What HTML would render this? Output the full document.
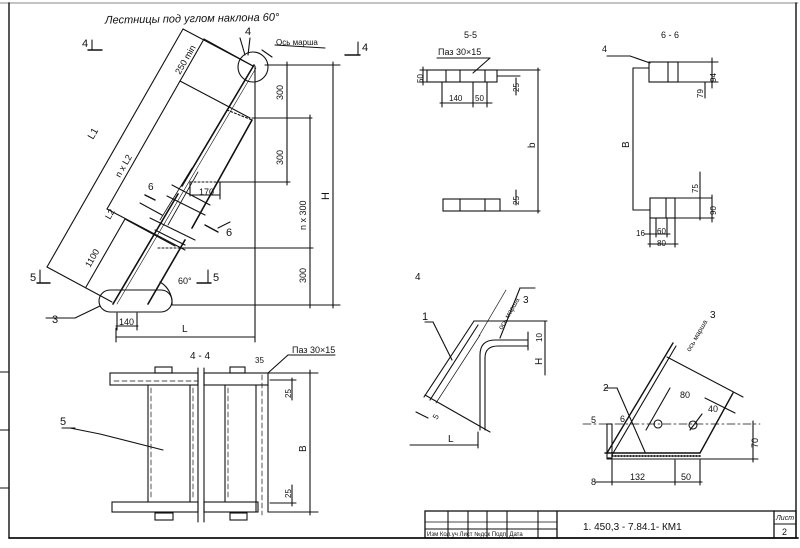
<!DOCTYPE html>
<html><head><meta charset="utf-8"><style>
html,body{margin:0;padding:0;background:#fff;}
svg{display:block;}
text{font-family:"Liberation Sans",sans-serif;fill:#111;}
</style></head><body>
<svg width="800" height="548" viewBox="0 0 800 548" xmlns="http://www.w3.org/2000/svg">
<g stroke="#111" stroke-width="1.1" fill="none" stroke-linecap="round">
<line x1="0" y1="3" x2="798" y2="3" stroke-width="0.6"/>
<line x1="9" y1="3" x2="9" y2="538" stroke-width="1.4"/>
<line x1="796" y1="3" x2="796" y2="538" stroke-width="1.4"/>
<line x1="9" y1="538" x2="798" y2="538" stroke-width="1.8"/>
<line x1="0" y1="372" x2="8" y2="372"/><line x1="0" y1="430" x2="9" y2="430"/><line x1="0" y1="488" x2="9" y2="488"/>
<rect x="425" y="511" width="371" height="27" stroke-width="1.3"/>
<line x1="425" y1="522" x2="557" y2="522" stroke-width="0.7"/>
<line x1="425" y1="529" x2="557" y2="529" stroke-width="1"/>
<line x1="448" y1="511" x2="448" y2="538"/><line x1="468" y1="511" x2="468" y2="538"/><line x1="487" y1="511" x2="487" y2="538"/><line x1="507" y1="511" x2="507" y2="538"/><line x1="538" y1="511" x2="538" y2="538"/><line x1="557" y1="511" x2="557" y2="538" stroke-width="1.3"/>
<line x1="774" y1="511" x2="774" y2="538" stroke-width="1.3"/><line x1="774" y1="524" x2="796" y2="524"/>

<line x1="113" y1="304" x2="178" y2="194" stroke-width="1.6"/>
<line x1="182" y1="186" x2="254" y2="65" stroke-width="1.6"/>
<line x1="117" y1="304" x2="256" y2="68" stroke-width="0.6"/>
<line x1="148" y1="304" x2="185" y2="240" stroke-width="1.6"/>
<line x1="192" y1="228" x2="252" y2="120" stroke-width="1.6"/>
<line x1="160" y1="220" x2="192" y2="168" stroke-width="0.8"/>
<line x1="168" y1="225" x2="198" y2="172" stroke-width="0.8"/>
<line x1="172" y1="185" x2="210" y2="205"/><line x1="167" y1="196" x2="205" y2="215"/>
<line x1="150" y1="218" x2="195" y2="240"/><line x1="155" y1="230" x2="185" y2="245"/>
<line x1="227" y1="110" x2="252" y2="120" stroke-dasharray="2 2"/>
<line x1="190" y1="182" x2="220" y2="182" stroke-dasharray="2 2"/>
<line x1="158" y1="248" x2="180" y2="248" stroke-dasharray="2 2"/>
<line x1="47" y1="267" x2="183" y2="29"/>
<line x1="107" y1="209" x2="204" y2="39"/>
<line x1="86" y1="287" x2="125" y2="219"/>
<line x1="47" y1="267" x2="112" y2="302"/>
<line x1="183" y1="29" x2="253" y2="66"/>
<line x1="204" y1="39" x2="253" y2="66"/>
<line x1="180" y1="81" x2="250" y2="118"/>
<line x1="107" y1="209" x2="185" y2="250"/>
<line x1="125" y1="219" x2="175" y2="246"/>
<line x1="140" y1="203" x2="162" y2="215"/>
<line x1="218" y1="228" x2="230" y2="222"/>
<line x1="255" y1="66" x2="255" y2="342"/>
<line x1="265" y1="65" x2="340" y2="65"/>
<line x1="252" y1="118" x2="312" y2="118"/>
<line x1="218" y1="182" x2="290" y2="182"/>
<line x1="180" y1="248" x2="313" y2="248"/>
<line x1="172" y1="305" x2="340" y2="305"/>
<line x1="287" y1="62" x2="287" y2="185"/>
<line x1="310" y1="115" x2="310" y2="308"/>
<line x1="333" y1="62" x2="333" y2="308"/>
<line x1="190" y1="182" x2="190" y2="196"/><line x1="190" y1="195" x2="220" y2="195"/><line x1="220" y1="182" x2="220" y2="199"/>
<line x1="116" y1="328" x2="116" y2="342"/><line x1="116" y1="337" x2="255" y2="337"/>
<line x1="117" y1="313" x2="117" y2="330"/><line x1="137" y1="313" x2="137" y2="330"/><line x1="116" y1="326" x2="138" y2="326"/>
<circle cx="253" cy="67" r="15"/>
<rect x="99" y="290" width="73" height="22" rx="11"/>
<path d="M172 305 A 24 24 0 0 0 160 282"/>
<line x1="88" y1="50" x2="102" y2="50" stroke-width="1.4"/><line x1="92" y1="40" x2="92" y2="50"/>
<line x1="345" y1="55" x2="360" y2="55" stroke-width="1.4"/><line x1="358" y1="42" x2="358" y2="55"/>
<line x1="37" y1="283" x2="50" y2="283" stroke-width="1.4"/><line x1="40" y1="270" x2="40" y2="283"/>
<line x1="197" y1="283" x2="211" y2="283" stroke-width="1.4"/><line x1="208" y1="270" x2="208" y2="283"/>
<line x1="205" y1="225" x2="218" y2="232" stroke-width="1.4"/>
<line x1="145" y1="195" x2="155" y2="200" stroke-width="1.4"/>
<line x1="240" y1="38" x2="245" y2="55"/><line x1="250" y1="38" x2="248" y2="55"/>
<line x1="262" y1="50" x2="272" y2="57"/><line x1="275" y1="45" x2="325" y2="48"/>
<line x1="46" y1="318" x2="75" y2="318"/><line x1="75" y1="318" x2="100" y2="306"/>

<rect x="110" y="373" width="88" height="12"/><rect x="204" y="373" width="64" height="12"/>
<line x1="114" y1="381" x2="198" y2="381" stroke-dasharray="5 3" stroke-width="0.7"/>
<line x1="148" y1="385" x2="148" y2="502"/><line x1="151" y1="388" x2="151" y2="500" stroke-dasharray="5 3" stroke-width="0.7"/>
<line x1="190" y1="385" x2="190" y2="502"/><line x1="193" y1="388" x2="193" y2="500" stroke-dasharray="5 3" stroke-width="0.7"/>
<line x1="225" y1="385" x2="225" y2="502"/><line x1="228" y1="388" x2="228" y2="500" stroke-dasharray="5 3" stroke-width="0.7"/>
<line x1="256" y1="385" x2="256" y2="512"/><line x1="268" y1="385" x2="268" y2="512"/>
<line x1="262" y1="375" x2="262" y2="515" stroke-dasharray="5 3" stroke-width="0.7"/>
<rect x="112" y="502" width="86" height="10"/><rect x="204" y="502" width="54" height="10"/>
<line x1="198" y1="368" x2="198" y2="522"/><line x1="204" y1="368" x2="204" y2="522"/>
<rect x="155" y="367" width="17" height="6"/><rect x="230" y="367" width="15" height="6"/>
<rect x="155" y="513" width="18" height="7"/><rect x="230" y="513" width="17" height="7"/>
<line x1="268" y1="373" x2="318" y2="373"/><line x1="268" y1="512" x2="318" y2="512"/>
<line x1="310" y1="370" x2="310" y2="515"/>
<line x1="270" y1="380" x2="296" y2="380"/><line x1="270" y1="503" x2="296" y2="503"/>
<line x1="292" y1="378" x2="292" y2="400"/><line x1="292" y1="485" x2="292" y2="506"/>
<line x1="268" y1="373" x2="288" y2="355"/><line x1="288" y1="355" x2="335" y2="355"/>
<line x1="62" y1="428" x2="75" y2="428"/><line x1="70" y1="428" x2="100" y2="434"/><line x1="100" y1="434" x2="163" y2="450"/>

<rect x="427" y="70" width="70" height="12"/>
<line x1="446" y1="70" x2="446" y2="82"/><line x1="460" y1="70" x2="460" y2="82"/><line x1="485" y1="70" x2="485" y2="82"/>
<line x1="497" y1="70" x2="540" y2="70"/><line x1="497" y1="76" x2="520" y2="76"/>
<line x1="420" y1="70" x2="427" y2="70"/><line x1="420" y1="82" x2="427" y2="82"/><line x1="423" y1="67" x2="423" y2="85"/>
<line x1="442" y1="82" x2="442" y2="107"/><line x1="473" y1="82" x2="473" y2="107"/><line x1="487" y1="82" x2="487" y2="107"/><line x1="440" y1="103" x2="492" y2="103"/>
<line x1="516" y1="78" x2="516" y2="95"/>
<line x1="538" y1="68" x2="538" y2="213"/>
<rect x="443" y="199" width="57" height="12"/><line x1="460" y1="199" x2="460" y2="211"/><line x1="485" y1="199" x2="485" y2="211"/>
<line x1="500" y1="211" x2="540" y2="211"/><line x1="516" y1="190" x2="516" y2="205"/>
<line x1="437" y1="58" x2="490" y2="58"/><line x1="490" y1="58" x2="473" y2="73"/>

<rect x="649" y="62" width="29" height="20"/><line x1="668" y1="62" x2="668" y2="82"/>
<line x1="678" y1="62" x2="718" y2="62"/><line x1="678" y1="82" x2="718" y2="82"/>
<line x1="712" y1="58" x2="712" y2="88"/><line x1="705" y1="82" x2="705" y2="98"/>
<line x1="607" y1="56" x2="630" y2="56"/><line x1="630" y1="56" x2="650" y2="63"/>
<line x1="633" y1="68" x2="633" y2="210"/><line x1="633" y1="68" x2="649" y2="68"/><line x1="633" y1="210" x2="650" y2="210"/>
<rect x="650" y="198" width="25" height="20"/><line x1="666" y1="198" x2="666" y2="218"/>
<line x1="675" y1="198" x2="712" y2="198"/><line x1="675" y1="218" x2="714" y2="218"/>
<line x1="700" y1="172" x2="700" y2="220"/><line x1="712" y1="195" x2="712" y2="222"/>
<line x1="650" y1="218" x2="650" y2="247"/><line x1="656" y1="218" x2="656" y2="237"/><line x1="667" y1="218" x2="667" y2="237"/><line x1="675" y1="218" x2="675" y2="247"/>
<line x1="645" y1="234" x2="670" y2="234"/><line x1="648" y1="244" x2="678" y2="244"/>

<line x1="424" y1="397" x2="474" y2="321"/><line x1="430" y1="400" x2="478" y2="325"/>
<line x1="436" y1="403" x2="480" y2="335" stroke-width="0.7"/>
<line x1="474" y1="321" x2="547" y2="321"/>
<path d="M480 430 L480 355 Q480 340 495 340 L528 340"/>
<path d="M485 430 L485 358 Q485 346 498 346 L528 346"/>
<line x1="545" y1="321" x2="545" y2="375"/><line x1="528" y1="332" x2="528" y2="350"/>
<line x1="410" y1="445" x2="478" y2="445"/><line x1="478" y1="432" x2="478" y2="448"/>
<line x1="425" y1="395" x2="490" y2="432"/><line x1="416" y1="412" x2="428" y2="418"/>
<line x1="425" y1="322" x2="433" y2="322"/><line x1="433" y1="322" x2="452" y2="360"/>
<line x1="520" y1="288" x2="535" y2="288"/><line x1="520" y1="288" x2="500" y2="338"/>
<line x1="479" y1="336" x2="506" y2="290" stroke-width="0.7"/>

<line x1="607" y1="453" x2="673" y2="343" stroke-width="1.4"/><line x1="612" y1="455" x2="676" y2="346"/>
<line x1="605" y1="453" x2="700" y2="453" stroke-width="1.4"/><line x1="607" y1="459" x2="700" y2="459"/>
<line x1="700" y1="453" x2="733" y2="393" stroke-width="1.4"/>
<line x1="667" y1="357" x2="743" y2="397"/><line x1="705" y1="398" x2="735" y2="413"/>
<line x1="670" y1="388" x2="646" y2="430"/><line x1="702" y1="414" x2="690" y2="430"/>
<line x1="583" y1="424" x2="760" y2="424" stroke-dasharray="8 3 2 3" stroke-width="0.7"/>
<circle cx="658" cy="424" r="4"/><circle cx="693" cy="425" r="4"/>
<rect x="607" y="424" width="5" height="34"/>
<line x1="700" y1="459" x2="758" y2="459"/><line x1="753" y1="421" x2="753" y2="462"/>
<line x1="612" y1="460" x2="612" y2="485"/><line x1="675" y1="460" x2="675" y2="485"/><line x1="700" y1="460" x2="700" y2="485"/><line x1="595" y1="482" x2="702" y2="482"/>
<line x1="605" y1="388" x2="617" y2="388"/><line x1="617" y1="388" x2="645" y2="452"/>
<path d="M612 456 L700 456" stroke-dasharray="1 2" stroke-width="1.8"/>
</g>
<g font-size="10">
<text x="105" y="22" font-style="italic" font-size="11" transform="rotate(-1 200 20)">Лестницы под углом наклона 60°</text>
<text x="82" y="47" font-size="11">4</text><text x="362" y="51" font-size="11">4</text>
<text x="30" y="281" font-size="11">5</text><text x="213" y="281" font-size="11">5</text>
<text x="226" y="236" font-size="11">6</text><text x="148" y="190" font-size="10">6</text>
<text x="245" y="35" font-size="11">4</text>
<text x="276" y="45" font-size="8">Ось марша</text>
<text x="52" y="323" font-size="11">3</text>
<text x="178" y="284" font-size="9">60°</text>
<text x="119" y="325" font-size="9">140</text>
<text x="182" y="332" font-size="10">L</text>
<text x="199" y="195" font-size="9">170</text>
<text transform="translate(283 100) rotate(-90)" font-size="9">300</text>
<text transform="translate(283 165) rotate(-90)" font-size="9">300</text>
<text transform="translate(306 230) rotate(-90)" font-size="9">n x 300</text>
<text transform="translate(306 283) rotate(-90)" font-size="9">300</text>
<text transform="translate(329 200) rotate(-90)" font-size="11">H</text>
<text transform="translate(93 140) rotate(-60)" font-size="10">L1</text>
<text transform="translate(120 178) rotate(-60)" font-size="9">n x L2</text>
<text transform="translate(180 75) rotate(-60)" font-size="9">250 min</text>
<text transform="translate(110 220) rotate(-60)" font-size="9">L2</text>
<text transform="translate(90 268) rotate(-60)" font-size="9">1100</text>
<text x="190" y="359" font-size="10">4 - 4</text>
<text x="292" y="353" font-size="9">Паз 30×15</text>
<text x="255" y="363" font-size="8">35</text>
<text transform="translate(291 398) rotate(-90)" font-size="8">25</text>
<text transform="translate(291 498) rotate(-90)" font-size="8">25</text>
<text transform="translate(306 452) rotate(-90)" font-size="10">B</text>
<text x="60" y="425" font-size="11">5</text>
<text x="464" y="38" font-size="9">5-5</text>
<text x="438" y="55" font-size="9">Паз 30×15</text>
<text transform="translate(423 83) rotate(-90)" font-size="8">50</text>
<text x="449" y="101" font-size="8">140</text><text x="475" y="101" font-size="8">50</text>
<text transform="translate(519 92) rotate(-90)" font-size="8">25</text>
<text transform="translate(519 205) rotate(-90)" font-size="8">25</text>
<text transform="translate(535 148) rotate(-90)" font-size="10">b</text>
<text x="661" y="38" font-size="9">6 - 6</text>
<text x="602" y="52" font-size="9">4</text>
<text transform="translate(629 148) rotate(-90)" font-size="10">B</text>
<text transform="translate(716 82) rotate(-90)" font-size="8">94</text>
<text transform="translate(703 98) rotate(-90)" font-size="8">79</text>
<text transform="translate(698 193) rotate(-90)" font-size="8">75</text>
<text transform="translate(716 215) rotate(-90)" font-size="8">90</text>
<text x="636" y="236" font-size="8">16</text><text x="657" y="234" font-size="8">60</text><text x="657" y="246" font-size="8">80</text>
<text x="415" y="280" font-size="10">4</text>
<text x="422" y="320" font-size="11">1</text>
<text x="523" y="303" font-size="10">3</text>
<text transform="translate(502 330) rotate(-60)" font-size="7">ось марша</text>
<text transform="translate(542 342) rotate(-90)" font-size="8">10</text>
<text transform="translate(542 365) rotate(-90)" font-size="10">H</text>
<text x="448" y="442" font-size="10">L</text>
<text transform="translate(437 420) rotate(-60)" font-size="8">5</text>
<text x="710" y="318" font-size="10">3</text>
<text transform="translate(690 352) rotate(-60)" font-size="7">ось марша</text>
<text x="603" y="391" font-size="10">2</text>
<text x="591" y="423" font-size="9">5</text><text x="620" y="422" font-size="9">6</text>
<text x="680" y="398" font-size="9">80</text><text x="708" y="412" font-size="9">40</text>
<text transform="translate(758 448) rotate(-90)" font-size="9">70</text>
<text x="591" y="485" font-size="9">8</text><text x="630" y="480" font-size="9">132</text><text x="681" y="480" font-size="9">50</text>
<text x="427" y="536" font-size="6">Изм Кол.уч Лист №док Подп. Дата</text>
<text x="583" y="530" font-size="10">1. 450,3 - 7.84.1-  КМ1</text>
<text x="776" y="520" font-size="7" font-style="italic">Лист</text>
<text x="782" y="535" font-size="9">2</text>
</g>
</svg>
</body></html>
